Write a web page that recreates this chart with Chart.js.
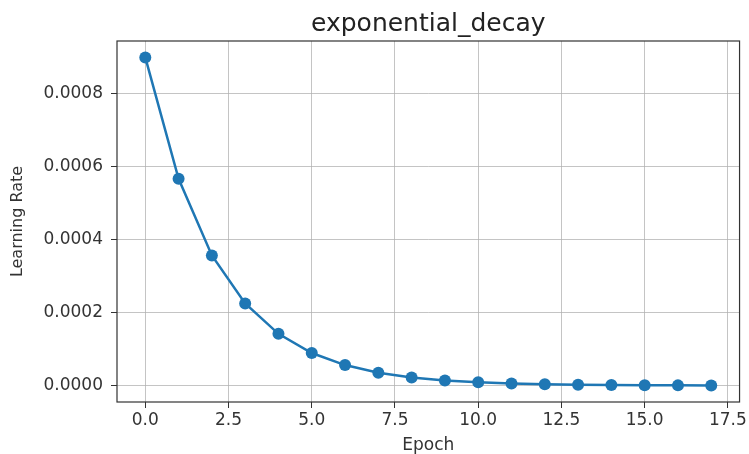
<!DOCTYPE html>
<html>
<head>
<meta charset="utf-8">
<title>exponential_decay</title>
<script src="https://cdn.jsdelivr.net/npm/chart.js@4.4.1/dist/chart.umd.min.js"></script>
<style>
  body { margin: 0; background: #fff; }
  #lrChart { display: block; }
</style>
</head>
<body>
<canvas id="lrChart" width="749" height="454"></canvas>
<script>
// data
var epochs = [0, 1, 2, 3, 4, 5, 6, 7, 8, 9, 10, 11, 12, 13, 14, 15, 16, 17];
var learningRate = [0.0009, 0.000567, 0.000357, 0.000225, 0.000142, 0.0000893,
  0.0000563, 0.0000354, 0.0000223, 0.0000141, 0.0000089, 0.0000056,
  0.0000035, 0.0000022, 0.0000014, 0.0000009, 0.0000006, 0.0000004];

// tick values + labels
var xTicks = [0, 2.5, 5, 7.5, 10, 12.5, 15, 17.5];
var xTickLabels = ["0.0", "2.5", "5.0", "7.5", "10.0", "12.5", "15.0", "17.5"];
var yTicks = [0, 0.0002, 0.0004, 0.0006, 0.0008];
var yTickLabels = ["0.0000", "0.0002", "0.0004", "0.0006", "0.0008"];

var blue = "#1f77b4";
var gridColor = "rgba(176, 176, 176, 0.75)";
var textColor = "#333";

Chart.defaults.font.family = "'DejaVu Sans', sans-serif";
Chart.defaults.color = textColor;

// matplotlib draws a box all the way round the axes
var frameBox = {
  id: "frameBox",
  afterDraw: function (chart) {
    var a = chart.chartArea;
    var ctx = chart.ctx;
    ctx.save();
    ctx.strokeStyle = "#333";
    ctx.lineWidth = 1.2;
    ctx.strokeRect(a.left, a.top, a.right - a.left, a.bottom - a.top);
    ctx.restore();
  }
};

var points = epochs.map(function (e, i) {
  return { x: e, y: learningRate[i] };
});

new Chart(document.getElementById("lrChart"), {
  type: "line",
  data: {
    datasets: [{
      label: "Learning Rate",
      data: points,
      borderColor: blue,
      backgroundColor: blue,
      borderWidth: 2.5,
      pointRadius: 6,
      pointHoverRadius: 6,
      pointBorderWidth: 0,
      pointBackgroundColor: blue,
      tension: 0,
      fill: false
    }]
  },
  options: {
    responsive: false,
    animation: false,
    layout: { padding: { left: 0, right: 7, top: 0, bottom: 0 } },
    plugins: {
      legend: { display: false },
      tooltip: { enabled: false },
      title: {
        display: true,
        text: "exponential_decay",
        fullSize: false,
        color: "#222",
        font: { size: 25, weight: "normal" },
        padding: { top: 9, bottom: 2 }
      }
    },
    scales: {
      x: {
        type: "linear",
        min: -0.85,
        max: 17.85,
        afterFit: function (scale) { scale.height = 52; },
        afterBuildTicks: function (scale) {
          scale.ticks = xTicks.map(function (v) { return { value: v }; });
        },
        border: { display: false },
        grid: { color: gridColor, lineWidth: 1, tickColor: "#333", tickLength: 6 },
        ticks: {
          font: { size: 17 },
          padding: 2,
          maxRotation: 0,
          callback: function (value, index) { return xTickLabels[index]; }
        },
        title: {
          display: true,
          text: "Epoch",
          font: { size: 17, lineHeight: 1 },
          padding: { top: 0, bottom: 0 }
        }
      },
      y: {
        min: -0.000045,
        max: 0.000945,
        afterFit: function (scale) { scale.width = 117; },
        afterBuildTicks: function (scale) {
          scale.ticks = yTicks.map(function (v) { return { value: v }; });
        },
        border: { display: false },
        grid: { color: gridColor, lineWidth: 1, tickColor: "#333", tickLength: 6 },
        ticks: {
          font: { size: 17 },
          padding: 8,
          callback: function (value, index) { return yTickLabels[index]; }
        },
        title: {
          display: true,
          text: "Learning Rate",
          font: { size: 16 },
          padding: { top: 8, bottom: 0 }
        }
      }
    }
  },
  plugins: [frameBox]
});
</script>
</body>
</html>
